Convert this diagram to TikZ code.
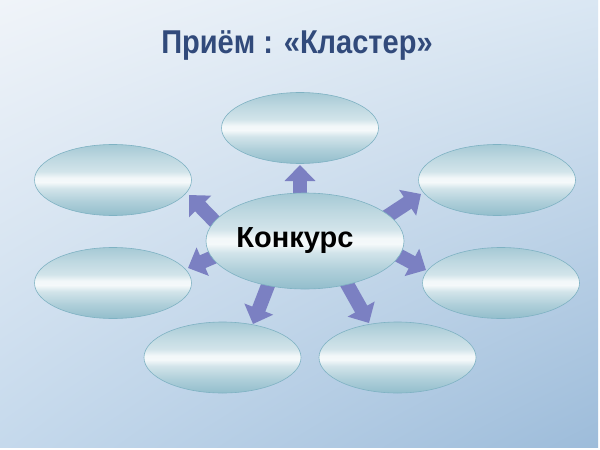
\documentclass[tikz,border=0pt]{standalone}
\usepackage{fontspec}
\setmainfont{Liberation Sans}
\usetikzlibrary{shapes.geometric,arrows.meta,shadings}
\pgfdeclarelayer{bg}
\pgfdeclarelayer{arr}
\pgfsetlayers{bg,arr,main}
\definecolor{bgA}{HTML}{F0F4F9}
\definecolor{bgB}{HTML}{DAE7F3}
\definecolor{bgC}{HTML}{C5D9EC}
\definecolor{bgD}{HTML}{9DBCDA}
\definecolor{titlecol}{HTML}{314A7B}
\definecolor{arrowcol}{HTML}{7B80C2}
\definecolor{ellborder}{HTML}{7FB2C3}
\pgfdeclareverticalshading{ellshade}{100bp}{
  color(0bp)=(ellborder!85!white);
  color(25bp)=(ellborder!85!white);
  color(35bp)=(ellborder!62!white);
  color(44bp)=(ellborder!35!white);
  color(48.5bp)=(ellborder!8!white);
  color(51.5bp)=(ellborder!10!white);
  color(56bp)=(ellborder!35!white);
  color(65bp)=(ellborder!50!white);
  color(75bp)=(ellborder!70!white);
  color(100bp)=(ellborder!70!white)}
\tikzset{
  oval/.style={ellipse, draw=ellborder, line width=0.6pt, shading=ellshade, inner sep=0pt},
  outer/.style={oval, minimum width=157pt, minimum height=71pt},
  blockarrow/.style={line width=14pt, draw=arrowcol,
    -{Triangle[width=30pt,length=16pt]}},
}
\begin{document}
\begin{tikzpicture}[x=1pt,y=-1pt]
\useasboundingbox (0,0) rectangle (600,450);
% nodes
\node[outer] (t)  at (300,128) {};
\node[outer] (ul) at (113,180) {};
\node[outer] (ll) at (113,283) {};
\node[outer] (ur) at (497,180) {};
\node[outer] (lr) at (501,283) {};
\node[outer] (bl) at (222.5,357.5) {};
\node[outer] (br) at (397.5,357.5) {};
\node[oval, minimum width=198pt, minimum height=96pt, font=\bfseries\fontsize{29}{31}\selectfont]
  (c) at (305,241) {\kern-20pt Конкурс};
\node[font=\bfseries\fontsize{33}{36}\selectfont, text=titlecol, inner sep=0pt] (title) at (297,45)
  {\scalebox{0.88}[1]{Приём : «Кластер»}};
% arrow coordinates
\coordinate (s1) at (300,205);   \coordinate (e1) at (300,165);
\coordinate (s2) at (225,232);   \coordinate (e2) at (189,195);
\coordinate (s3) at (232,249);   \coordinate (e3) at (188,268);
\coordinate (s4) at (380,221);   \coordinate (e4) at (421,194);
\coordinate (s5) at (385,248);   \coordinate (e5) at (426,270);
\coordinate (s6) at (272,275);   \coordinate (e6) at (253,324);
\coordinate (s7) at (342,275);   \coordinate (e7) at (369,323);
\begin{pgfonlayer}{arr}
  \foreach \i in {1,...,7} \draw[blockarrow] (s\i) -- (e\i);
\end{pgfonlayer}
\begin{pgfonlayer}{bg}
  \fill[white] (0,0) rectangle (600,450);
  \shade[upper left=bgA, upper right=bgB, lower left=bgC, lower right=bgD]
    (0,0) rectangle (598,447);
\end{pgfonlayer}
\end{tikzpicture}
\end{document}
